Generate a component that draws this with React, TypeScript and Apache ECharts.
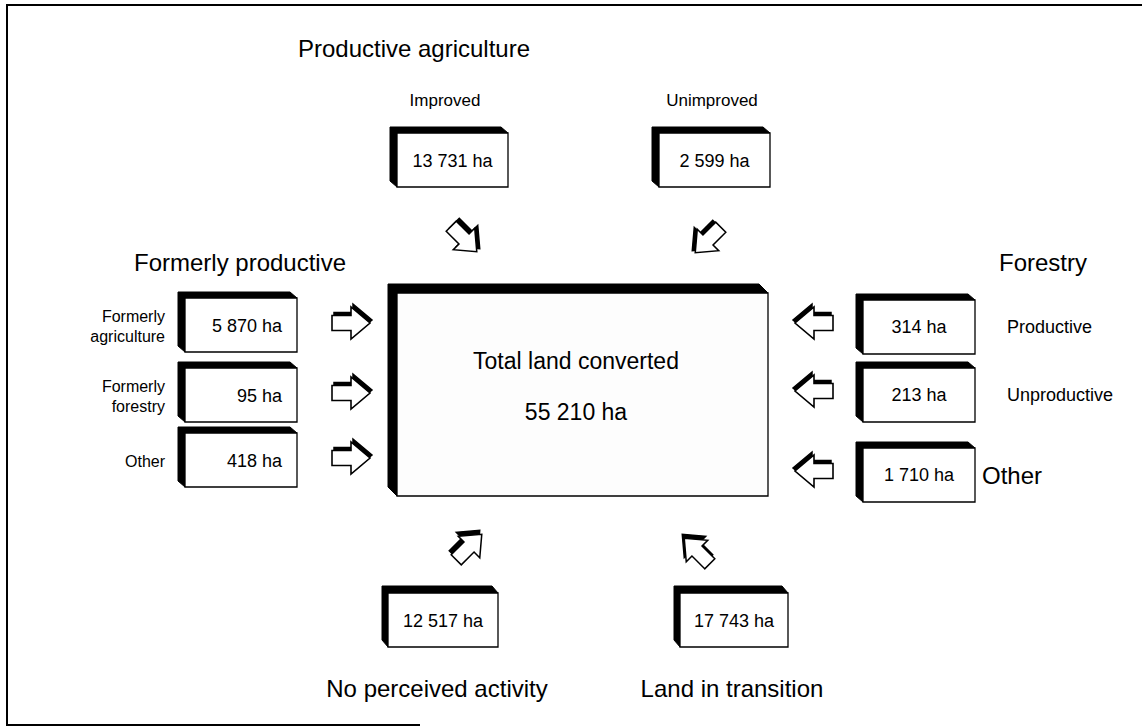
import React, { useEffect, useRef } from "react";
import * as echarts from "echarts";

// ---- data ----
const totalLabel = "Total land converted";
const totalValue = 55210;
const agricultureTitle = "Productive agriculture";
const agricultureLabels = ["Improved", "Unimproved"];
const agricultureValues = [13731, 2599];
const formerTitle = "Formerly productive";
const formerLabels = ["Formerly\nagriculture", "Formerly\nforestry", "Other"];
const formerValues = [5870, 95, 418];
const forestryTitle = "Forestry";
const forestryLabels = ["Productive", "Unproductive", "Other"];
const forestryValues = [314, 213, 1710];
const outcomeLabels = ["No perceived activity", "Land in transition"];
const outcomeValues = [12517, 17743];
const unit = "ha";

const fmt = (v: number) =>
  v.toString().replace(/\B(?=(\d{3})+(?!\d))/g, " ") + " " + unit;

const FONT = "'Liberation Sans', Arial, Helvetica, sans-serif";

function buildGraphics() {
  const els: any[] = [];

  const text = (
    x: number,
    y: number,
    s: string,
    size: number,
    align: string = "center",
    lineHeight?: number
  ) => {
    els.push({
      type: "text",
      x,
      y,
      style: {
        text: s,
        fontSize: size,
        fontFamily: FONT,
        fill: "#000",
        textAlign: align,
        textVerticalAlign: "middle",
        lineHeight: lineHeight || Math.round(size * 1.2),
      },
    });
  };

  const box = (
    x: number,
    y: number,
    w: number,
    h: number,
    dx: number,
    dy: number,
    fill = "#fff"
  ) => {
    els.push({
      type: "polygon",
      shape: {
        points: [
          [x - dx, y - dy],
          [x + w - dx, y - dy],
          [x + w, y],
          [x, y],
          [x, y + h],
          [x - dx, y + h - dy],
        ],
      },
      style: { fill: "#000", stroke: "#000", lineWidth: 1 },
    });
    els.push({
      type: "rect",
      shape: { x, y, width: w, height: h },
      style: { fill, stroke: "#000", lineWidth: 1.3 },
    });
  };

  // arrow pointing +x, centred on origin
  const arrowPts = [
    [-19, -7.5],
    [0, -7.5],
    [0, -16],
    [19, 0],
    [0, 16],
    [0, 7.5],
    [-19, 7.5],
  ];
  // angleDeg: screen direction, measured clockwise from +x
  const arrow = (
    cx: number,
    cy: number,
    angleDeg: number,
    sx: number,
    sy: number,
    scale = 1
  ) => {
    const rot = (-angleDeg * Math.PI) / 180;
    els.push({
      type: "polygon",
      x: cx + sx,
      y: cy + sy,
      rotation: rot,
      scaleX: scale,
      scaleY: scale,
      shape: { points: arrowPts },
      style: { fill: "#000", stroke: "#000", lineWidth: 1.5 },
    });
    els.push({
      type: "polygon",
      x: cx,
      y: cy,
      rotation: rot,
      scaleX: scale,
      scaleY: scale,
      shape: { points: arrowPts },
      style: { fill: "#fff", stroke: "#000", lineWidth: 1.6 },
    });
  };

  // frame
  const frameStyle = { stroke: "#000", lineWidth: 2 };
  els.push({ type: "line", shape: { x1: 6, y1: 5, x2: 1142, y2: 5 }, style: frameStyle });
  els.push({ type: "line", shape: { x1: 7, y1: 5, x2: 7, y2: 726 }, style: frameStyle });
  els.push({ type: "line", shape: { x1: 7, y1: 725, x2: 420, y2: 725 }, style: frameStyle });

  // centre
  box(397, 293, 371, 203, 9, 9, "#fdfdfd");
  text(576, 361, totalLabel, 23);
  text(576, 412, fmt(totalValue), 23);

  // productive agriculture (top)
  text(414, 48, agricultureTitle, 24);
  const topBoxes = [
    [397, 133, 111, 54],
    [659, 133, 111, 54],
  ];
  const topLabelX = [445, 712];
  agricultureLabels.forEach((l, i) => {
    const [x, y, w, h] = topBoxes[i];
    text(topLabelX[i], 100, l, 17);
    box(x, y, w, h, 7, 6);
    text(x + w / 2, y + h / 2 + 1, fmt(agricultureValues[i]), 18);
  });
  arrow(464, 239, 45, 3, -3, 0.95);
  arrow(708, 240, 135, -3, -2, 0.95);

  // formerly productive (left)
  text(240, 262, formerTitle, 24);
  const leftY = [298, 368, 433];
  formerLabels.forEach((l, i) => {
    const y = leftY[i];
    box(185, y, 112, 54, 7, 6);
    text(282, y + 28, fmt(formerValues[i]), 18, "right");
    text(165, y + 28, l, 16, "right", 20);
    arrow(351, y + 25, 0, 2, -3);
  });

  // forestry (right)
  text(1043, 262, forestryTitle, 24);
  const rightY = [300, 368, 448];
  forestryLabels.forEach((l, i) => {
    const y = rightY[i];
    box(863, y, 112, 54, 7, 6);
    text(919, y + 27, fmt(forestryValues[i]), 18);
    if (i === 2) text(982, y + 27, l, 24, "left");
    else text(1007, y + 27, l, 18, "left");
    arrow(814, y + 23, 180, -2, -3);
  });

  // outcomes (bottom)
  const bottomBoxes = [
    [388, 593, 110, 54],
    [680, 593, 108, 54],
  ];
  const bottomLabelX = [437, 732];
  outcomeLabels.forEach((l, i) => {
    const [x, y, w, h] = bottomBoxes[i];
    box(x, y, w, h, 6, 7);
    text(x + w / 2, y + h / 2 + 1, fmt(outcomeValues[i]), 18);
    text(bottomLabelX[i], 688, l, 24);
  });
  arrow(469, 547, -45, -2, -4, 0.95);
  arrow(697, 551, -135, -2, -4, 0.95);

  return els;
}

export default function App() {
  const ref = useRef<HTMLDivElement>(null);
  useEffect(() => {
    if (!ref.current) return;
    const chart = echarts.init(ref.current, undefined, { renderer: "svg" });
    chart.setOption({
      animation: false,
      backgroundColor: "#fff",
      graphic: { elements: buildGraphics() },
    });
    return () => chart.dispose();
  }, []);
  return (
    <div
      ref={ref}
      style={{
        position: "fixed",
        left: 0,
        top: 0,
        width: 1142,
        height: 727,
        background: "#fff",
      }}
    />
  );
}
